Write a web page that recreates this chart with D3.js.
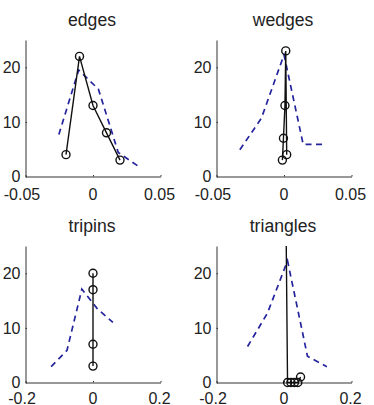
<!DOCTYPE html>
<html>
<head>
<meta charset="utf-8">
<script src="https://cdn.jsdelivr.net/npm/d3@7"></script>
<style>
  html, body { margin: 0; padding: 0; background: #fff; }
  svg { display: block; font-family: "Liberation Sans", Arial, Helvetica, sans-serif; }
</style>
</head>
<body>
<svg id="chart" width="374" height="405"></svg>
<script>
// ---- data ----
const panelTitles = ["edges", "wedges", "tripins", "triangles"];

const edgesCircleX = [-0.02, -0.01, 0, 0.01, 0.02];
const edgesCircleY = [4, 22, 13, 8, 3];
const edgesDashX = [-0.0253, -0.0106, 0.004, 0.0187, 0.0334];
const edgesDashY = [7.7, 19.5, 16, 4.4, 1.9];

const wedgesCircleX = [-0.0012, -0.0004, 0.0007, 0.0013, 0.002];
const wedgesCircleY = [3, 7, 13, 23, 4];
const wedgesDashX = [-0.0327, -0.0167, 0, 0.0142, 0.0307];
const wedgesDashY = [4.9, 10.7, 22.3, 5.9, 5.9];

const tripinsCircleX = [0, 0, 0, 0];
const tripinsCircleY = [3, 7, 17, 20];
const tripinsDashX = [-0.124, -0.077, -0.033, 0.013, 0.059];
const tripinsDashY = [2.9, 5.9, 17.1, 13.5, 11];

const trianglesCircleX = [0.003, 0.0105, 0.0205, 0.031, 0.041, 0.049];
const trianglesCircleY = [49, 0, 0, 0, 0, 1];
const trianglesDashX = [-0.108, -0.049, 0.0104, 0.0696, 0.127];
const trianglesDashY = [6.6, 12.7, 22.3, 4.8, 2.9];

const xDomainTop = [-0.05, 0.05];
const xDomainBottom = [-0.2, 0.2];
const yDomain = [0, 25];
const xTicksTop = [-0.05, 0, 0.05];
const xTickLabelsTop = ["-0.05", "0", "0.05"];
const xTicksBottom = [-0.2, 0, 0.2];
const xTickLabelsBottom = ["-0.2", "0", "0.2"];
const yTicks = [0, 10, 20];
const yTickLabels = ["0", "10", "20"];

// ---- layout ----
const colLeft = [25.5, 216.5];
const rowBottom = [176.5, 382.5];
const rowTickPad = [12, 10];
const plotW = 135, plotH = 136.5;

const panels = [
  { title: panelTitles[0], cx: edgesCircleX, cy: edgesCircleY, dx: edgesDashX, dy: edgesDashY,
    xd: xDomainTop, xt: xTicksTop, xl: xTickLabelsTop, col: 0, row: 0 },
  { title: panelTitles[1], cx: wedgesCircleX, cy: wedgesCircleY, dx: wedgesDashX, dy: wedgesDashY,
    xd: xDomainTop, xt: xTicksTop, xl: xTickLabelsTop, col: 1, row: 0 },
  { title: panelTitles[2], cx: tripinsCircleX, cy: tripinsCircleY, dx: tripinsDashX, dy: tripinsDashY,
    xd: xDomainBottom, xt: xTicksBottom, xl: xTickLabelsBottom, col: 0, row: 1 },
  { title: panelTitles[3], cx: trianglesCircleX, cy: trianglesCircleY, dx: trianglesDashX, dy: trianglesDashY,
    xd: xDomainBottom, xt: xTicksBottom, xl: xTickLabelsBottom, col: 1, row: 1 }
];

const svg = d3.select("#chart");
const defs = svg.append("defs");

panels.forEach((p, i) => {
  const left = colLeft[p.col];
  const bottom = rowBottom[p.row];
  const top = bottom - plotH;
  const x = d3.scaleLinear().domain(p.xd).range([left, left + plotW]);
  const y = d3.scaleLinear().domain(yDomain).range([bottom, top]);

  const clipId = "clip" + i;
  defs.append("clipPath").attr("id", clipId)
    .append("rect").attr("x", left - 10).attr("y", top).attr("width", plotW + 20).attr("height", plotH + 10);

  const g = svg.append("g");

  // title
  g.append("text")
    .attr("x", left + plotW / 2 - 1)
    .attr("y", top - 14)
    .attr("text-anchor", "middle")
    .attr("font-size", "17.6px")
    .attr("fill", "#222")
    .text(p.title);

  // axes
  const xAxis = d3.axisBottom(x).tickValues(p.xt)
    .tickFormat((d, k) => p.xl[k])
    .tickSizeInner(-1.5).tickSizeOuter(0).tickPadding(rowTickPad[p.row]);
  const gx = g.append("g").attr("transform", `translate(0,${bottom})`).call(xAxis);
  gx.select(".domain").attr("stroke", "#333");
  gx.selectAll(".tick line").attr("stroke", "#333");
  gx.selectAll(".tick text").attr("font-size", "16px").attr("fill", "#222")
    .attr("font-family", "Liberation Sans, Arial, sans-serif")
    .attr("dx", d => d < 0 ? -4 : (d > 0 ? -1.5 : -0.5));

  const yAxis = d3.axisLeft(y).tickValues(yTicks)
    .tickFormat((d, k) => yTickLabels[k])
    .tickSizeInner(-1.5).tickSizeOuter(0).tickPadding(5);
  const gy = g.append("g").attr("transform", `translate(${left},0)`).call(yAxis);
  gy.select(".domain").attr("stroke", "#333");
  gy.selectAll(".tick line").attr("stroke", "#333");
  gy.selectAll(".tick text").attr("font-size", "16px").attr("fill", "#222")
    .attr("font-family", "Liberation Sans, Arial, sans-serif");

  // dashed histogram line
  const dashData = p.dx.map((v, k) => [v, p.dy[k]]);
  g.append("path")
    .datum(dashData)
    .attr("clip-path", `url(#${clipId})`)
    .attr("fill", "none")
    .attr("stroke", "#24249c")
    .attr("stroke-width", 1.7)
    .attr("stroke-dasharray", "6,4.5")
    .attr("d", d3.line().x(d => x(d[0])).y(d => y(d[1])));

  // solid line with circles
  const solidData = p.cx.map((v, k) => [v, p.cy[k]]);
  g.append("path")
    .datum(solidData)
    .attr("clip-path", `url(#${clipId})`)
    .attr("fill", "none")
    .attr("stroke", "#111")
    .attr("stroke-width", 1.4)
    .attr("d", d3.line().x(d => x(d[0])).y(d => y(d[1])));

  g.selectAll("circle.m")
    .data(solidData.filter(d => d[1] <= yDomain[1]))
    .enter().append("circle")
    .attr("class", "m")
    .attr("cx", d => x(d[0]))
    .attr("cy", d => y(d[1]))
    .attr("r", 4)
    .attr("fill", "none")
    .attr("stroke", "#111")
    .attr("stroke-width", 1.4);
});
</script>
</body>
</html>
